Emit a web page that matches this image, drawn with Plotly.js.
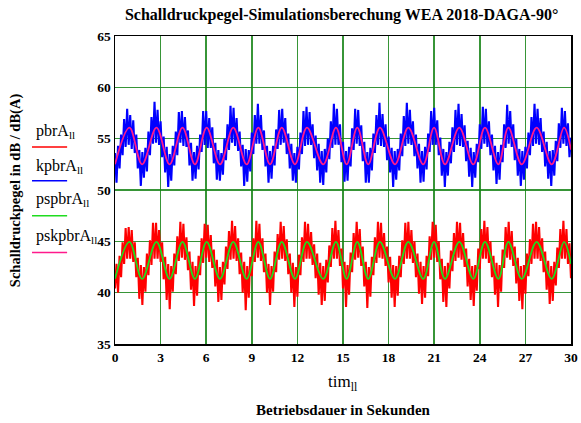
<!DOCTYPE html>
<html>
<head>
<meta charset="utf-8">
<script src="https://cdn.plot.ly/plotly-3.0.1.min.js"></script>
<style>
  html, body { margin: 0; padding: 0; background: #fff; }
  #chart { width: 581px; height: 423px; }
</style>
</head>
<body>
<div id="chart"></div>
<script>
// Sampling of the simulated level signals (seconds)
const sampleStart = 0;
const sampleStep = 0.1;

// pbrA: simulated sound pressure level (dB), sampled every 0.1 s
const pbrA = [
  40.4, 42.8, 40.0, 43.6, 41.5, 44.9, 42.8, 46.3, 43.3, 46.4,
  43.3, 46.1, 43.0, 44.9, 41.5, 43.4, 39.4, 42.7, 38.8, 42.5,
  40.1, 43.8, 41.7, 45.1, 42.7, 46.8, 43.3, 46.8, 43.3, 46.1,
  43.0, 44.9, 41.3, 43.5, 39.3, 42.8, 38.4, 42.6, 40.1, 43.8,
  41.8, 45.5, 43.1, 46.9, 43.4, 46.7, 43.2, 45.4, 42.2, 44.0,
  40.3, 43.0, 38.7, 42.6, 39.7, 43.6, 41.7, 45.3, 42.9, 46.7,
  43.4, 46.6, 43.0, 45.6, 42.4, 44.2, 40.6, 43.2, 39.1, 42.5,
  39.3, 43.0, 40.8, 44.5, 42.3, 46.0, 43.2, 47.0, 43.3, 46.5,
  43.1, 45.3, 41.8, 43.9, 40.0, 43.0, 38.3, 42.6, 39.5, 43.5,
  41.6, 45.3, 43.0, 47.0, 43.4, 46.7, 43.1, 45.3, 42.0, 43.8,
  40.0, 42.8, 38.8, 42.6, 40.1, 44.0, 42.0, 45.7, 43.2, 46.9,
  43.3, 46.5, 43.1, 45.2, 41.8, 43.8, 40.0, 42.9, 38.6, 42.5,
  39.6, 43.7, 41.7, 45.4, 43.0, 46.9, 43.3, 46.7, 43.3, 45.9,
  42.7, 44.7, 41.4, 43.8, 39.8, 42.9, 38.8, 42.6, 39.2, 43.2,
  41.0, 44.6, 42.5, 46.3, 43.3, 47.0, 43.3, 46.1, 42.6, 44.3,
  40.4, 43.0, 38.6, 42.7, 39.8, 43.9, 42.0, 45.8, 43.2, 46.9,
  43.4, 46.2, 42.6, 44.5, 40.6, 43.0, 38.5, 42.5, 39.6, 43.5,
  41.7, 45.4, 42.9, 46.9, 43.4, 46.8, 43.3, 45.8, 42.6, 44.5,
  41.0, 43.5, 39.5, 42.7, 38.6, 42.6, 39.7, 43.6, 41.5, 45.1,
  42.8, 46.8, 43.3, 46.9, 43.3, 46.1, 42.9, 45.0, 41.5, 43.8,
  39.9, 43.0, 38.9, 42.6, 39.5, 43.6, 41.6, 45.5, 43.2, 46.9,
  43.4, 46.6, 43.0, 45.0, 41.3, 43.3, 39.1, 42.6, 38.6, 42.9,
  40.4, 44.1, 42.1, 45.8, 43.1, 46.9, 43.4, 46.8, 43.2, 45.8,
  42.5, 44.3, 40.6, 43.3, 39.3, 42.6, 38.7, 42.7, 40.2, 44.3,
  42.3, 46.2, 43.3, 47.0, 43.3, 46.4, 42.9, 45.0, 41.5, 43.6,
  39.8, 42.9, 38.6, 42.7, 40.1, 44.2, 42.4, 46.4, 43.4, 46.9,
  43.2, 46.0, 42.6, 44.5, 40.9, 43.4, 39.2, 42.6, 38.4, 42.7,
  39.9, 43.8, 41.6, 45.2, 42.8, 46.7, 43.3, 46.9, 43.3, 46.4,
  43.1, 45.3, 42.0, 44.0, 40.3, 43.1, 38.9, 42.6, 39.2, 43.0,
  40.7, 44.4, 42.4, 46.2, 43.3, 47.0, 43.3, 46.2, 42.8, 44.8,
  41.4
];

// kpbrA: simulated level with correction (dB), sampled every 0.1 s
const kpbrA = [
  53.6, 50.7, 54.3, 52.1, 55.4, 53.4, 56.9, 54.2, 57.9, 54.4,
  57.3, 54.0, 56.8, 53.6, 55.4, 52.1, 53.9, 50.4, 53.7, 51.2,
  54.1, 51.8, 55.7, 53.4, 57.1, 54.5, 58.6, 54.6, 57.8, 54.4,
  56.7, 53.2, 55.2, 51.7, 54.2, 50.3, 53.5, 50.9, 54.3, 52.4,
  55.7, 53.4, 57.6, 54.6, 57.7, 54.3, 57.1, 54.2, 55.8, 52.4,
  54.6, 50.9, 53.7, 51.1, 54.3, 52.0, 55.4, 53.7, 57.7, 54.4,
  57.7, 54.1, 57.0, 54.1, 56.1, 52.6, 54.6, 51.0, 53.9, 50.9,
  53.6, 51.5, 55.0, 52.9, 56.4, 53.9, 58.2, 54.6, 58.0, 54.3,
  57.0, 53.8, 55.7, 52.3, 54.4, 50.4, 54.0, 50.8, 53.9, 51.8,
  55.6, 53.5, 57.3, 54.5, 58.4, 54.5, 57.3, 53.9, 55.8, 52.3,
  54.3, 50.7, 53.8, 51.1, 54.3, 52.4, 55.9, 54.0, 57.8, 54.4,
  57.9, 54.6, 57.0, 53.5, 55.5, 52.1, 54.5, 50.9, 53.6, 50.7,
  54.2, 52.0, 55.6, 53.5, 57.7, 54.3, 58.1, 54.4, 57.6, 54.4,
  56.4, 53.1, 55.3, 51.9, 54.5, 50.7, 53.8, 50.5, 54.0, 51.7,
  55.0, 53.0, 56.7, 54.1, 58.4, 54.4, 57.9, 54.4, 56.4, 52.7,
  54.7, 50.8, 53.8, 50.9, 54.2, 52.3, 56.0, 53.9, 57.9, 54.5,
  57.8, 54.3, 56.3, 52.8, 54.7, 50.7, 53.7, 50.7, 54.1, 51.9,
  55.5, 53.6, 57.3, 54.4, 58.5, 54.3, 57.4, 54.2, 56.4, 52.9,
  55.2, 51.7, 54.1, 50.3, 53.8, 51.0, 54.0, 51.9, 55.5, 53.3,
  57.2, 54.3, 58.5, 54.5, 57.8, 54.4, 56.7, 53.3, 55.4, 52.1,
  54.5, 50.7, 53.8, 50.8, 54.2, 52.0, 55.5, 53.7, 57.7, 54.4,
  58.0, 54.4, 56.8, 53.4, 55.1, 51.4, 54.0, 50.3, 53.7, 51.4,
  54.7, 52.6, 56.1, 53.7, 57.8, 54.4, 58.4, 54.3, 57.4, 54.2,
  56.3, 52.8, 54.8, 51.3, 54.1, 50.3, 53.7, 51.2, 54.5, 52.7,
  56.4, 54.0, 58.1, 54.5, 57.9, 54.2, 56.7, 53.4, 55.4, 51.9,
  54.3, 50.6, 53.7, 51.0, 54.4, 52.7, 56.4, 54.1, 58.3, 54.5,
  57.7, 54.2, 56.4, 52.9, 55.0, 51.4, 54.0, 50.4, 53.8, 51.0,
  54.2, 52.1, 55.6, 53.4, 57.1, 54.3, 58.4, 54.5, 57.9, 54.4,
  57.0, 53.7, 55.7, 52.3, 54.7, 51.1, 53.8, 50.4, 53.9, 51.4,
  54.8, 52.8, 56.5, 54.1, 58.0, 54.5, 57.7, 54.3, 56.5, 53.2,
  55.1
];

// Smoothed levels: turning points of the periodic component (s)
const tTurn = [
  0, 0.95, 1.78, 2.73, 3.59, 4.44, 5.26, 6.03, 6.91, 7.78,
  8.66, 9.43, 10.2, 10.97, 11.84, 12.63, 13.7, 14.54, 15.24, 15.94,
  16.66, 17.43, 18.42, 19.3, 20.28, 20.99, 21.71, 22.65, 23.57, 24.34,
  25.22, 25.88, 26.76, 27.74, 28.73, 29.54, 30
];
// pspbrA: smoothed pbrA at the turning points (dB)
const pspbrA = [
  41.35, 44.95, 41.35, 44.95, 41.35, 44.95, 41.35, 44.95, 41.35, 44.95,
  41.35, 44.95, 41.35, 44.95, 41.35, 44.95, 41.35, 44.95, 41.35, 44.95,
  41.35, 44.95, 41.35, 44.95, 41.35, 44.95, 41.35, 44.95, 41.35, 44.95,
  41.35, 44.95, 41.35, 44.95, 41.35, 44.95, 42.8
];
// pskpbrA: smoothed kpbrA at the turning points (dB)
const pskpbrA = [
  52.5, 56.07, 52.5, 56.07, 52.5, 56.07, 52.5, 56.07, 52.5, 56.07,
  52.5, 56.07, 52.5, 56.07, 52.5, 56.07, 52.5, 56.07, 52.5, 56.07,
  52.5, 56.07, 52.5, 56.07, 52.5, 56.07, 52.5, 56.07, 52.5, 56.07,
  52.5, 56.07, 52.5, 56.07, 52.5, 56.07, 53.93
];

const xTicks = [0, 3, 6, 9, 12, 15, 18, 21, 24, 27, 30];
const yTicks = [35, 40, 45, 50, 55, 60, 65];

const seriesNames = ['pbrA<sub>ll</sub>', 'kpbrA<sub>ll</sub>', 'pspbrA<sub>ll</sub>', 'pskpbrA<sub>ll</sub>'];
const seriesColors = ['#ff0000', '#0000ff', '#1fdc1f', '#ff1a8c'];

const serif = '"Liberation Serif", "Times New Roman", serif';
const gridGreen = 'rgba(20,130,20,0.85)';

const traces = [
  { y: pbrA, x0: sampleStart, dx: sampleStep, type: 'scatter', mode: 'lines',
    line: { color: seriesColors[0], width: 2.1 }, name: seriesNames[0] },
  { y: kpbrA, x0: sampleStart, dx: sampleStep, type: 'scatter', mode: 'lines',
    line: { color: seriesColors[1], width: 2.1 }, name: seriesNames[1] },
  { x: tTurn, y: pspbrA, type: 'scatter', mode: 'lines',
    line: { color: seriesColors[2], width: 1.8, shape: 'spline', smoothing: 1 }, name: seriesNames[2] },
  { x: tTurn, y: pskpbrA, type: 'scatter', mode: 'lines',
    line: { color: seriesColors[3], width: 1.8, shape: 'spline', smoothing: 1 }, name: seriesNames[3] }
];

// Legend drawn Mathcad-style: label above a short line sample
const legendTextY = [0.691, 0.577, 0.470, 0.349];
const legendLineY = [0.640, 0.530, 0.416, 0.297];
const annotations = [];
const shapes = [];
for (let i = 0; i < seriesNames.length; i++) {
  annotations.push({
    xref: 'paper', yref: 'paper', x: -0.178, y: legendTextY[i],
    xanchor: 'left', yanchor: 'middle', showarrow: false,
    text: seriesNames[i], font: { family: serif, size: 16, color: '#000' }
  });
  shapes.push({
    type: 'line', xref: 'paper', yref: 'paper',
    x0: -0.182, x1: -0.105, y0: legendLineY[i], y1: legendLineY[i],
    line: { color: seriesColors[i], width: 1.5 }
  });
}
annotations.push({
  xref: 'paper', yref: 'paper', x: -0.219, y: 0.5, textangle: -90,
  xanchor: 'center', yanchor: 'middle', showarrow: false,
  text: 'Schalldruckpegel in dB / dB(A)',
  font: { family: serif, size: 14.5, color: '#000', weight: 'bold' }
});
annotations.push({
  xref: 'paper', yref: 'paper', x: 0.5, y: -0.125,
  xanchor: 'center', yanchor: 'middle', showarrow: false,
  text: 'tim<sub>ll</sub>', font: { family: serif, size: 17, color: '#000' }
});
annotations.push({
  xref: 'paper', yref: 'paper', x: 0.5, y: -0.215,
  xanchor: 'center', yanchor: 'middle', showarrow: false,
  text: 'Betriebsdauer in Sekunden',
  font: { family: serif, size: 15, color: '#000', weight: 'bold' }
});

const axisCommon = {
  showgrid: true, gridcolor: gridGreen, gridwidth: 1.5,
  showline: true, linecolor: '#000', linewidth: 1.5, mirror: true,
  zeroline: false, ticks: '', fixedrange: true,
  tickfont: { family: serif, size: 13.5, color: '#000', weight: 'bold' }
};

const layout = {
  width: 581, height: 423,
  margin: { l: 115, r: 10, t: 36, b: 79 },
  paper_bgcolor: '#fff', plot_bgcolor: '#fff',
  showlegend: false,
  title: {
    text: 'Schalldruckpegel-Simulationsberechung WEA 2018-DAGA-90°',
    xref: 'container', x: 0.588, xanchor: 'center',
    yref: 'container', y: 0.965, yanchor: 'middle',
    font: { family: serif, size: 16, color: '#000', weight: 'bold' }
  },
  xaxis: Object.assign({}, axisCommon, {
    range: [0, 30], tickvals: xTicks, ticktext: xTicks.map(String)
  }),
  yaxis: Object.assign({}, axisCommon, {
    range: [35, 65], tickvals: yTicks, ticktext: yTicks.map(String)
  }),
  annotations: annotations,
  shapes: shapes
};

Plotly.newPlot('chart', traces, layout, { staticPlot: true, displayModeBar: false });
</script>
</body>
</html>
